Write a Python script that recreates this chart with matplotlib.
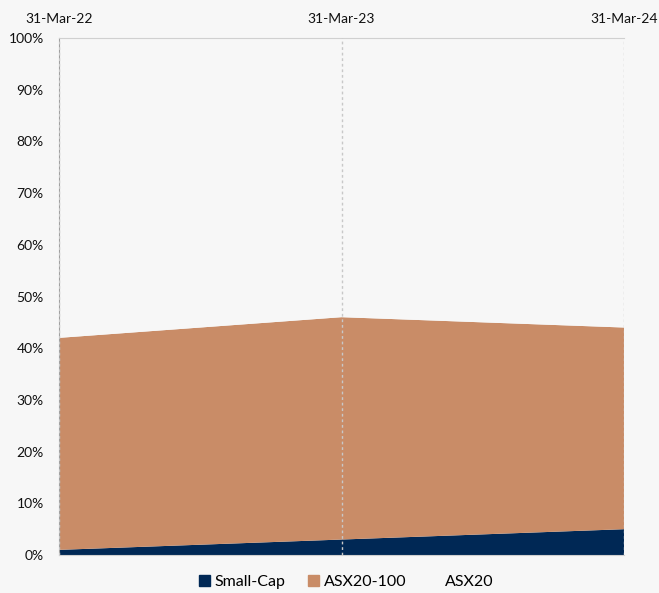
import numpy as np
import matplotlib.pyplot as plt

# --- data (share of holdings, %) ---
dates = ['31-Mar-22', '31-Mar-23', '31-Mar-24']
small_cap = [1, 3, 5]
asx20_100 = [41, 43, 39]
asx20 = [58, 54, 56]

bg = '#f7f7f7'
plt.rcParams['font.family'] = ['Lato', 'DejaVu Sans']

fig = plt.figure(figsize=(6.59, 5.93), dpi=100, facecolor=bg)
ax = fig.add_axes([0.0895, 0.064, 0.8575, 0.872])
ax.set_facecolor(bg)

x = np.arange(len(dates))
ax.stackplot(x, small_cap, asx20_100, asx20,
             colors=['#002855', '#c98c67', '#ffffff'],
             labels=['Small-Cap', 'ASX20-100', 'ASX20'])
# background shows through the top band in the original
ax.collections[2].set_facecolor(bg)

ax.set_xlim(0, 2)
ax.set_ylim(0, 100)
ax.set_xticks(x)
ax.set_xticklabels(dates)
ax.xaxis.tick_top()
ax.set_yticks(np.arange(0, 101, 10))
ax.set_yticklabels([f'{v}%' for v in range(0, 101, 10)])
ax.tick_params(length=0, labelsize=10, colors='#111111')
ax.tick_params(axis='y', pad=11)
ax.tick_params(axis='x', pad=9)

for xi in x:
    ax.axvline(xi, color='#c8c8c8', linestyle=(0, (2, 2)), linewidth=1, zorder=3)
ax.spines['left'].set_color('#a0a0a0')
ax.spines['top'].set_color('#d0d0d0')
ax.spines['right'].set_visible(False)
ax.spines['bottom'].set_color('#d0d0d0')

handles = [plt.Rectangle((0, 0), 1, 1, color=c) for c in ['#002855', '#c98c67', bg]]
fig.legend(handles, ['Small-Cap', 'ASX20-100', 'ASX20'], loc='center', ncol=3,
           bbox_to_anchor=(0.525, 0.018), frameon=False, fontsize=11.5,
           handlelength=0.7, handleheight=0.7, handletextpad=0.3, columnspacing=1.4)

fig.savefig('out.png', dpi=100, facecolor=bg)
